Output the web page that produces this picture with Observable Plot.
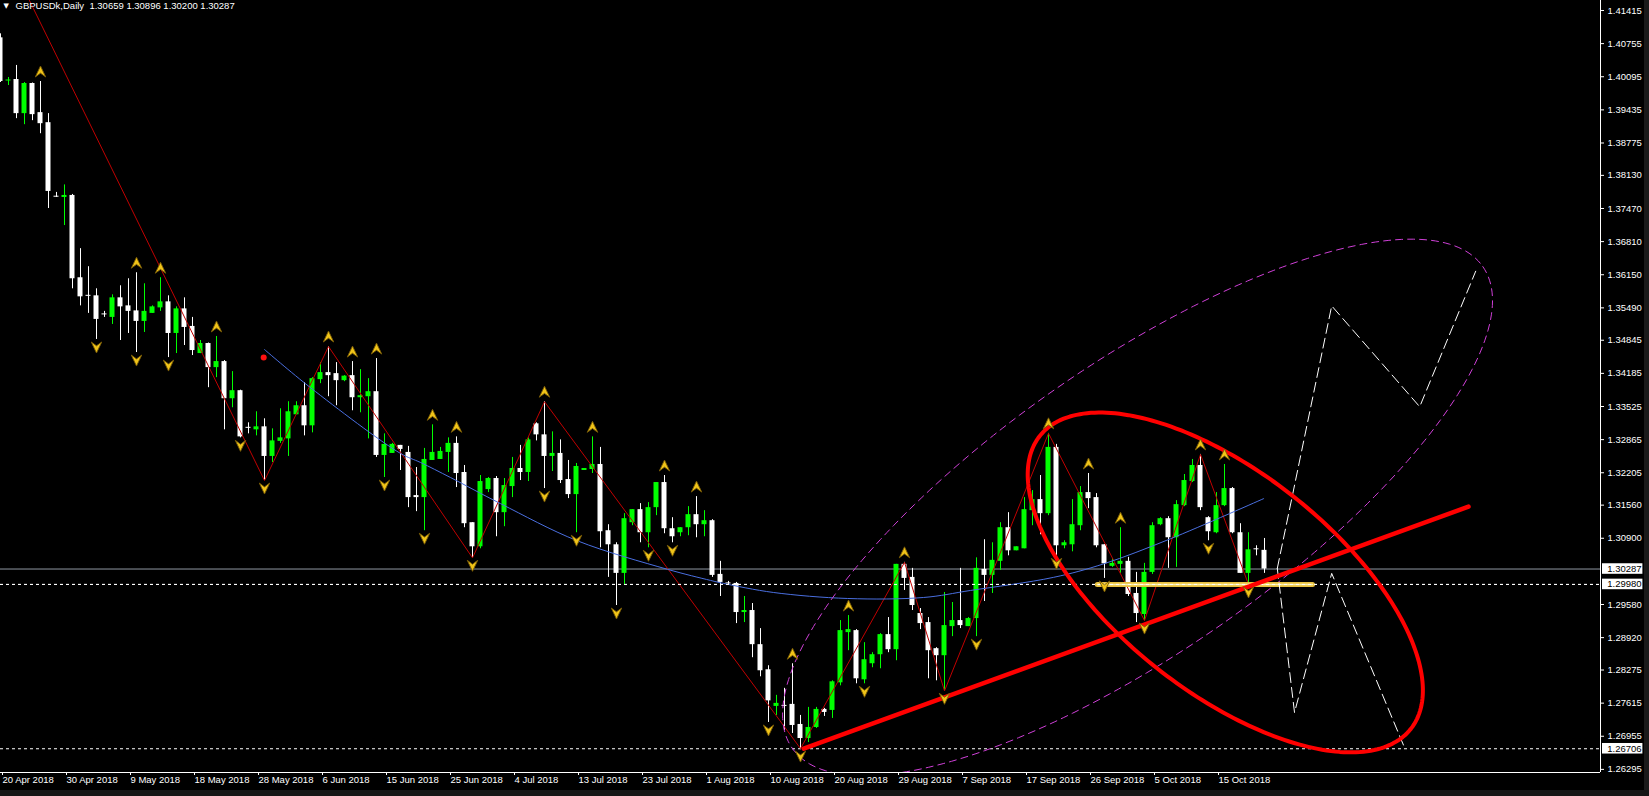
<!DOCTYPE html>
<html><head><meta charset="utf-8">
<script src="https://cdn.jsdelivr.net/npm/d3@7"></script>
<script src="https://cdn.jsdelivr.net/npm/@observablehq/plot@0.6"></script>
<style>
html,body{margin:0;padding:0;background:#000;}
#wrap{position:relative;width:1649px;height:796px;overflow:hidden;background:#000;}
#rstrip{position:absolute;left:1644px;top:0;width:5px;height:796px;background:#1a1a1a;}
#bstrip{position:absolute;left:0;top:790px;width:1649px;height:6px;background:#161616;}
</style></head><body><div id="wrap"></div>
<script>
// ---- Daily GBPUSD bars (index 0 = 20 Apr 2018, incl. Sunday bars) ----
const openP = [1.4087,1.4001,1.4004,1.3936,1.3996,1.3938,1.3918,1.3771,1.3769,1.3773,
1.3609,1.3574,1.3573,1.3537,1.3530,1.3569,1.3553,1.3543,1.3522,1.3538,
1.3549,1.3561,1.3498,1.3547,1.3512,1.3458,1.3478,1.3430,1.3442,1.3368,
1.3384,1.3311,1.3306,1.3312,1.3253,1.3283,1.3288,1.3336,1.3354,1.3314,
1.3406,1.3420,1.3418,1.3404,1.3414,1.3370,1.3372,1.3382,1.3255,1.3259,
1.3275,1.3261,1.3175,1.3171,1.3245,1.3247,1.3261,1.3279,1.3221,1.3121,
1.3073,1.3187,1.3209,1.3141,1.3193,1.3229,1.3221,1.3318,1.3296,1.3253,
1.3259,1.3207,1.3177,1.3225,1.3227,1.3237,1.3105,1.3077,1.3020,1.3121,
1.3147,1.3101,1.3151,1.3201,1.3109,1.3101,1.3111,1.3137,1.3117,1.3125,
1.3018,1.3001,1.3000,1.2942,1.2946,1.2878,1.2828,1.2755,1.2757,1.2759,
1.2719,1.2691,1.2713,1.2749,1.2747,1.2802,1.2902,1.2906,1.2808,1.2840,
1.2858,1.2898,1.2868,1.3038,1.3012,1.2940,1.2922,1.2870,1.2856,1.2914,
1.2926,1.2914,1.2930,1.3028,1.3016,1.3044,1.3111,1.3065,1.3069,1.3145,
1.3167,1.3139,1.3271,1.3075,1.3077,1.3115,1.3181,1.3171,1.3077,1.3034,
1.3038,1.3044,1.2980,1.2938,1.3022,1.3117,1.3129,1.3091,1.3155,1.3203,
1.3235,1.3131,1.3101,1.3155,1.3189,1.3101,1.3020,1.3069,1.30659];
const highP = [1.4095,1.4008,1.4032,1.3998,1.3997,1.4000,1.3936,1.3779,1.3794,1.3775,
1.3667,1.3631,1.3587,1.3542,1.3575,1.3593,1.3607,1.3619,1.3597,1.3553,
1.3609,1.3573,1.3551,1.3569,1.3530,1.3484,1.3479,1.3492,1.3444,1.3422,
1.3385,1.3320,1.3342,1.3328,1.3308,1.3348,1.3362,1.3362,1.3400,1.3410,
1.3440,1.3472,1.3440,1.3414,1.3442,1.3426,1.3408,1.3448,1.3298,1.3279,
1.3275,1.3273,1.3231,1.3269,1.3316,1.3271,1.3290,1.3292,1.3235,1.3121,
1.3215,1.3211,1.3213,1.3209,1.3251,1.3275,1.3290,1.3320,1.3362,1.3302,
1.3286,1.3245,1.3239,1.3229,1.3292,1.3271,1.3117,1.3081,1.3139,1.3147,
1.3159,1.3161,1.3201,1.3215,1.3131,1.3111,1.3153,1.3173,1.3145,1.3127,
1.3044,1.3004,1.3002,1.2974,1.2960,1.2910,1.2836,1.2777,1.2791,1.2840,
1.2737,1.2753,1.2753,1.2751,1.2806,1.2926,1.2936,1.2908,1.2882,1.2862,
1.2900,1.2932,1.3038,1.3042,1.3030,1.2950,1.2932,1.2872,1.2982,1.2962,
1.3030,1.2932,1.3051,1.3087,1.3081,1.3121,1.3141,1.3073,1.3171,1.3185,
1.3215,1.3299,1.3277,1.3085,1.3167,1.3193,1.3219,1.3179,1.3077,1.3049,
1.3111,1.3052,1.3022,1.3040,1.3121,1.3131,1.3133,1.3165,1.3217,1.3247,
1.3257,1.3133,1.3181,1.3237,1.3191,1.3119,1.3101,1.3075,1.30896];
const lowP = [1.3998,1.3992,1.3926,1.3914,1.3922,1.3896,1.3747,1.3769,1.3713,1.3587,
1.3553,1.3538,1.3486,1.3530,1.3516,1.3484,1.3498,1.3460,1.3500,1.3538,
1.3542,1.3450,1.3458,1.3474,1.3454,1.3458,1.3390,1.3410,1.3306,1.3350,
1.3290,1.3298,1.3294,1.3205,1.3241,1.3279,1.3253,1.3336,1.3294,1.3300,
1.3398,1.3372,1.3354,1.3402,1.3344,1.3340,1.3288,1.3251,1.3211,1.3259,
1.3225,1.3151,1.3143,1.3105,1.3245,1.3247,1.3221,1.3191,1.3111,1.3051,
1.3069,1.3181,1.3093,1.3113,1.3171,1.3205,1.3203,1.3284,1.3189,1.3223,
1.3199,1.3169,1.3101,1.3225,1.3219,1.3071,1.3012,1.2956,1.2996,1.3115,
1.3081,1.3071,1.3135,1.3099,1.3081,1.3093,1.3095,1.3091,1.3093,1.3012,
1.2974,1.2996,1.2920,1.2922,1.2852,1.2814,1.2723,1.2737,1.2707,1.2701,
1.2671,1.2683,1.2711,1.2735,1.2731,1.2796,1.2866,1.2800,1.2800,1.2832,
1.2830,1.2862,1.2846,1.2986,1.2946,1.2908,1.2810,1.2806,1.2786,1.2894,
1.2910,1.2914,1.2894,1.2964,1.2980,1.3026,1.3055,1.3065,1.3069,1.3115,
1.3097,1.3135,1.3055,1.3069,1.3063,1.3105,1.3149,1.3071,1.3010,1.3032,
1.3020,1.2974,1.2922,1.2926,1.3018,1.3115,1.3030,1.3032,1.3153,1.3201,
1.3145,1.3085,1.3099,1.3153,1.3099,1.3020,1.2998,1.3055,1.30200];
const closeP = [1.4000,1.4003,1.3936,1.3996,1.3934,1.3916,1.3781,1.3770,1.3773,1.3607,
1.3571,1.3572,1.3526,1.3535,1.3569,1.3551,1.3542,1.3522,1.3542,1.3551,
1.3561,1.3498,1.3547,1.3510,1.3464,1.3478,1.3430,1.3442,1.3368,1.3384,
1.3292,1.3309,1.3312,1.3253,1.3284,1.3290,1.3342,1.3354,1.3314,1.3408,
1.3420,1.3414,1.3404,1.3413,1.3370,1.3374,1.3382,1.3255,1.3277,1.3277,
1.3267,1.3171,1.3171,1.3247,1.3261,1.3263,1.3279,1.3219,1.3119,1.3073,
1.3203,1.3209,1.3141,1.3195,1.3229,1.3221,1.3286,1.3296,1.3253,1.3259,
1.3205,1.3177,1.3233,1.3229,1.3237,1.3103,1.3077,1.3020,1.3129,1.3147,
1.3101,1.3151,1.3201,1.3109,1.3093,1.3111,1.3137,1.3117,1.3125,1.3016,
1.3002,1.2999,1.2942,1.2946,1.2878,1.2826,1.2766,1.2761,1.2755,1.2717,
1.2691,1.2713,1.2749,1.2743,1.2804,1.2906,1.2908,1.2810,1.2848,1.2858,
1.2898,1.2868,1.3038,1.3010,1.2956,1.2920,1.2866,1.2856,1.2916,1.2926,
1.2916,1.2930,1.3030,1.3016,1.3046,1.3111,1.3065,1.3073,1.3147,1.3167,
1.3139,1.3271,1.3075,1.3081,1.3117,1.3181,1.3169,1.3075,1.3039,1.3040,
1.3044,1.2978,1.2940,1.3022,1.3115,1.3129,1.3091,1.3157,1.3205,1.3235,
1.3151,1.3103,1.3155,1.3189,1.3101,1.3020,1.3067,1.3067,1.30287];

// ---- axis ticks ----
const priceTicks = [1.41415,1.40755,1.40095,1.39435,1.38775,1.38130,1.37470,1.36810,1.36150,1.35490,
1.34845,1.34185,1.33525,1.32865,1.32205,1.31560,1.30900,1.29580,1.28920,1.28275,1.27615,1.26955,1.26295];
const dateTickIdx = [0,8,16,24,32,40,48,56,64,72,80,88,96,104,112,120,128,136,144,152];
const dateLabels = ["20 Apr 2018","30 Apr 2018","9 May 2018","18 May 2018","28 May 2018","6 Jun 2018",
"15 Jun 2018","25 Jun 2018","4 Jul 2018","13 Jul 2018","23 Jul 2018","1 Aug 2018","10 Aug 2018",
"20 Aug 2018","29 Aug 2018","7 Sep 2018","17 Sep 2018","26 Sep 2018","5 Oct 2018","15 Oct 2018"];

// ---- indicators / drawings ----
const fractalUpIdx = [5,17,20,27,41,44,47,54,57,68,74,83,87,99,106,113,131,136,140,150,153];
const fractalDnIdx = [12,17,21,30,33,48,53,59,68,72,77,81,84,96,100,108,118,122,132,138,143,151,156];
const zigzagIdx = [-3,33,41,59,68,100,113,118,131,143,150,156];
const zigzagPrice = [1.4377,1.3205,1.3472,1.3051,1.3362,1.2671,1.3042,1.2786,1.3299,1.2926,1.3257,1.2998];
const blueIdx = [33,38.75,50,52.5,56.25,62.5,72.1,83.4,88.75,90.4,96.6,105.9,115.4,121.25,131.6,137.9,146.25,157.9];
const bluePrice = [1.3466,1.3390,1.3259,1.3241,1.3211,1.3159,1.3085,1.3028,1.3006,1.3000,1.2982,1.2970,1.2972,1.2986,1.3012,1.3039,1.3089,1.3169];
const redDot = {idx: 32.9, price: 1.3450};
const trendIdx = [100.4, 183.5];
const trendPrice = [1.2671, 1.3153];
const supportIdx = [137.1, 164];
const supportPrice = [1.2998, 1.2998];
const projUpIdx = [159.6,166.4,177.4,184.4];
const projUpPrice = [1.3030,1.3553,1.3352,1.3622];
const projDnIdx = [159.6,161.75,166.4,175.5];
const projDnPrice = [1.3030,1.2743,1.3020,1.2673];
const levelBid = 1.30287;
const levelsDashed = [1.29980, 1.26706];
const labelLevels = [1.30287, 1.29980, 1.26706];
// ellipse: centre + two conjugate radius vectors (bar index, price)
const magentaEllipse = {cx:142.13, cy:1.31514, ux:43.16, uy:0.04799, vx:10.30, vy:-0.02353};
const redEllipse = {cx:153.1, cy:1.30020, ux:23.19, uy:-0.02918, vx:-8.50, vy:-0.01715};
const titleText = "GBPUSDk,Daily  1.30659 1.30896 1.30200 1.30287";

// ---- build ----
const bars = openP.map((o,i)=>{
  const c = closeP[i];
  let lo = Math.min(o,c), hi = Math.max(o,c);
  if (hi - lo < 0.0002) { const m=(hi+lo)/2; lo=m-0.0001; hi=m+0.0001; }
  return {i, o, h: highP[i], l: lowP[i], c, up: c >= o, b1: lo, b2: hi};
});
const col = d => d.up ? "#00ff00" : "#ffffff";
function ellipsePts(e){
  return d3.range(241).map(k=>{const t=2*Math.PI*k/240;
    return {x:e.cx+e.ux*Math.cos(t)+e.vx*Math.sin(t), y:e.cy+e.uy*Math.cos(t)+e.vy*Math.sin(t)};});
}
const zip = (xs,ys)=>xs.map((x,k)=>({x, y: ys[k]}));
const arrowUp = {draw(ctx,size){const s=Math.sqrt(size/Math.PI);ctx.moveTo(0,-s);ctx.lineTo(s*0.95,s);ctx.lineTo(0,s*0.3);ctx.lineTo(-s*0.95,s);ctx.closePath();}};
const arrowDn = {draw(ctx,size){const s=Math.sqrt(size/Math.PI);ctx.moveTo(0,s);ctx.lineTo(s*0.95,-s);ctx.lineTo(0,-s*0.3);ctx.lineTo(-s*0.95,-s);ctx.closePath();}};

const yTop = 1.41614, yBottom = 1.26233;
const chart = Plot.plot({
  width:1649, height:796, marginLeft:0, marginRight:49, marginTop:0, marginBottom:24,
  x:{domain:[0,200], axis:null},
  y:{domain:[yBottom,yTop], axis:null},
  style:{background:"#000", color:"#fff", fontFamily:"'Liberation Sans', Arial, sans-serif", fontSize:"9.5px"},
  marks:[
    Plot.ruleY([levelBid], {stroke:"#8f98a3", strokeWidth:1}),
    Plot.ruleY(levelsDashed, {stroke:"#ffffff", strokeWidth:1, strokeDasharray:"3,3"}),
    Plot.ruleX(bars, {x:"i", y1:"l", y2:"h", stroke:col, strokeWidth:1, clip:true}),
    Plot.rect(bars, {x1:d=>d.i-0.3125, x2:d=>d.i+0.3125, y1:"b1", y2:"b2", fill:col, clip:true}),
    Plot.line(zip(zigzagIdx,zigzagPrice), {x:"x", y:"y", stroke:"#c00000", strokeWidth:1, clip:true}),
    Plot.line(zip(blueIdx,bluePrice), {x:"x", y:"y", stroke:"#4a6fe0", strokeWidth:1, curve:"catmull-rom", clip:true}),
    Plot.dot([redDot], {x:"idx", y:"price", r:3, fill:"#ff1010"}),
    Plot.line(ellipsePts(magentaEllipse), {x:"x", y:"y", stroke:"#d040d8", strokeWidth:1, strokeDasharray:"7,5", clip:true}),
    Plot.line(zip(supportIdx,supportPrice), {x:"x", y:"y", stroke:"#e8c040", strokeWidth:5}),
    Plot.line(zip(supportIdx,supportPrice), {x:"x", y:"y", stroke:"#fff3a8", strokeWidth:1.5}),
    Plot.ruleY([levelsDashed[0]], {stroke:"#ffffff", strokeWidth:1, strokeDasharray:"3,3"}),
    Plot.line(zip(projUpIdx,projUpPrice), {x:"x", y:"y", stroke:"#ffffff", strokeWidth:1, strokeDasharray:"10,5", clip:true}),
    Plot.line(zip(projDnIdx,projDnPrice), {x:"x", y:"y", stroke:"#ffffff", strokeWidth:1, strokeDasharray:"10,5", clip:true}),
    Plot.line(ellipsePts(redEllipse), {x:"x", y:"y", stroke:"#ff0000", strokeWidth:4, clip:true}),
    Plot.line(zip(trendIdx,trendPrice), {x:"x", y:"y", stroke:"#ff0000", strokeWidth:4.5, strokeLinecap:"round"}),
    Plot.dot(fractalUpIdx.map(i=>bars[i]), {x:"i", y:"h", dy:-10, r:5.5, symbol:arrowUp, fill:"#f0c419", stroke:"#7a5c06", strokeWidth:0.9}),
    Plot.dot(fractalDnIdx.map(i=>bars[i]), {x:"i", y:"l", dy:8, r:5.5, symbol:arrowDn, fill:"#f0c419", stroke:"#7a5c06", strokeWidth:0.9}),
    // axes
    Plot.ruleX([200], {stroke:"#ffffff", strokeWidth:1}),
    Plot.ruleY([yBottom], {x1:0, x2:200, stroke:"#ffffff", strokeWidth:1}),
    Plot.axisY(priceTicks, {anchor:"right", tickSize:3, tickPadding:4, tickFormat:d=>d.toFixed(5), color:"#ffffff", fontSize:9.5}),
    Plot.axisX(dateTickIdx, {anchor:"bottom", tickSize:3, tickPadding:1, tickFormat:d=>dateLabels[dateTickIdx.indexOf(d)], textAnchor:"start", dx:2, color:"#ffffff", fontSize:9.5}),
    Plot.rect(labelLevels, {x1:d=>200.25, x2:d=>205.3, y1:d=>d-0.00105, y2:d=>d+0.00105, fill:"#ffffff"}),
    Plot.text(labelLevels, {x:d=>200.85, y:d=>d, text:d=>d.toFixed(5), fill:"#000000", textAnchor:"start", fontSize:9.5}),
    Plot.text([titleText], {frameAnchor:"top-left", dx:15, dy:2, text:d=>d, fill:"#ffffff", fontSize:9.5}),
    Plot.text(["▼"], {frameAnchor:"top-left", dx:3, dy:3, text:d=>d, fill:"#ffffff", fontSize:7, fontFamily:"DejaVu Sans"})
  ]
});
const wrap = document.getElementById("wrap");
wrap.appendChild(chart);
const r = document.createElement("div"); r.id="rstrip"; wrap.appendChild(r);
const b = document.createElement("div"); b.id="bstrip"; wrap.appendChild(b);
</script></body></html>
